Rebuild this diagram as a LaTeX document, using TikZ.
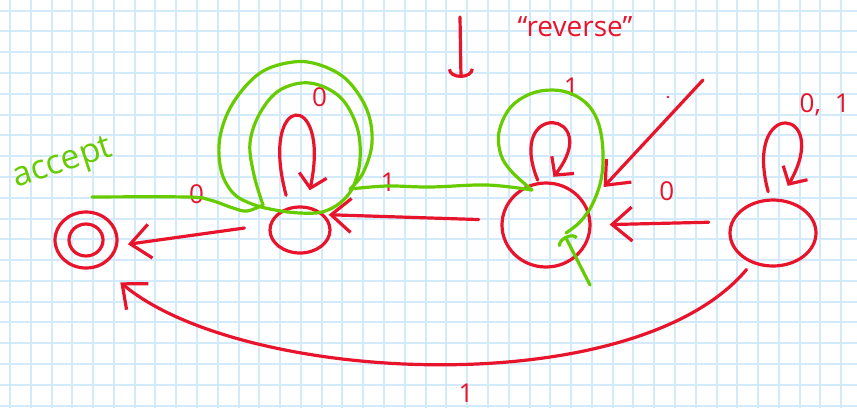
\documentclass[tikz,border=0pt]{standalone}
\usepackage{fontspec}
\setmainfont{Open Sans}
\usepackage{xcolor}
\definecolor{pen}{HTML}{E8142C}
\definecolor{hl}{HTML}{66CC00}
\definecolor{gridc}{HTML}{D2EAFA}
\usetikzlibrary{arrows.meta,positioning,calc,shapes.geometric}
\tikzset{
  ink/.style={line width=3.2pt,line cap=round,line join=round},
  rline/.style={ink,draw=pen},
  gline/.style={ink,draw=hl},
  st/.style={ellipse,rline,inner sep=0pt},
  rarr/.style={rline,-{Straight Barb[length=20pt,width=34pt]}},
  rloop/.style={rline,-{Straight Barb[length=13pt,width=28pt]}},
  lab/.style={font=\fontsize{26}{26}\selectfont,text=pen,inner sep=1pt},
  hand/.style={font=\fontsize{28}{28}\selectfont,inner sep=1pt},
  gridln/.style={draw=gridc,line width=2pt},
}
\begin{document}
\begin{tikzpicture}[x=1pt,y=1pt]
\useasboundingbox (0,0) rectangle (857,-408);
\fill[white] (0,0) rectangle (857,-408);
% squared paper
\foreach \i in {0,...,40}{\draw[gridln] ({10+20.78*\i},0) -- ({10+20.78*\i},-408);}
\foreach \j in {0,...,19}{\draw[gridln] (0,{-10.7-20.78*\j}) -- (857,{-10.7-20.78*\j});}

% states
\node[st,minimum width=62pt,minimum height=56pt] (acc) at (86,-240) {};
\node[st,minimum width=34pt,minimum height=32pt] (acc-in) at (acc) {};
\node[st,minimum width=60pt,minimum height=46pt] (qA) at (300,-230) {};
\node[st,minimum width=88pt,minimum height=84pt] (qB) at (546,-225) {};
\node[st,minimum width=86pt,minimum height=66pt] (qC) at (773,-233) {};

% transitions
\draw[rarr,shorten <=25pt,shorten >=10pt] (qA.170) -- (acc.350) node[lab,pos=.48,above=28pt] (l-a0) {0};
\draw[rarr,shorten <=22pt,shorten >=4pt] (qB.174) -- (qA.32) node[lab,pos=.64,above=23pt] (l-b1) {1};
\draw[rarr,shorten <=22pt,shorten >=18pt] (qC.165) -- (qB.east) node[lab,pos=.46,above=20pt] (l-c0) {0};
\draw[rarr,shorten <=8pt,shorten >=25pt] (qC.235) to[out=-130,in=-40,looseness=.72] node[lab,pos=.46,below=20pt] (l-c1) {1} (acc.-60);
\draw[rloop,shorten <=12pt,shorten >=16pt] (qA.115) .. controls +(105:120) and +(78:120) .. (qA.75) node[lab,pos=.5,above=10pt,xshift=24pt] (l-aa) {0};
\draw[rloop,shorten <=2pt,shorten >=6pt] (qB.100) .. controls +(112:90) and +(52:90) .. (qB.85) node[lab,pos=.5,above=25pt,xshift=19pt] (l-bb) {1};
\draw[rloop,shorten <=7pt,shorten >=15pt] (qC.95) .. controls +(105:106) and +(60:106) .. (qC.78) node[lab,pos=.5,above=7pt,xshift=40pt] (l-cc) {0,\hspace{14pt}1};

% start arrow into qB
\coordinate (b-in) at (703,-80);
\draw[rarr] (b-in) -- ([shift={(12,38)}]qB.east);
\fill[pen] (668,-97) circle[radius=1.3pt];

% reverse note
\coordinate (dn-top) at (460,-17);
\coordinate (dn-tip) at (461,-78);
\draw[rline,-{Arc Barb[length=9pt,width=26pt]}] (dn-top) -- (dn-tip);
\node[hand,text=pen] (rev) at (575,-27) {“reverse”};

% green trace of the reversed run
\coordinate (g-start) at (590,-285);
\draw[gline,-{Arc Barb[length=7pt,width=22pt]}] (g-start) -- ([shift={(19,-11)}]qB.center);
\draw[gline] plot[smooth,tension=.6] coordinates {(566,-233) (580,-222) (592,-205) (601,-180) (603,-152) (599,-125) (589,-106) (572,-94) (552,-90) (530,-94) (510,-108) (499,-132) (501,-155) (512,-172) (532,-190)};
\draw[gline] plot[smooth,tension=.6] coordinates {(532,-190) (487,-185) (430,-187) (387,-186) (350,-189)};
\draw[gline] plot[smooth,tension=.6] coordinates {(350,-189) (363,-173) (372,-143) (367,-110) (347,-80) (320,-65) (293,-62) (260,-73) (233,-103) (220,-137) (221,-170) (233,-193) (252,-204) (275,-210) (300,-213) (322,-212) (340,-203) (353,-187) (360,-160) (357,-127) (340,-97) (310,-83) (280,-90) (260,-113) (250,-143) (254,-175) (263,-205)};
\draw[gline] plot[smooth,tension=.6] coordinates {(263,-205) (247,-211) (233,-208) (210,-200) (187,-197) (92,-197)};
\node[hand,font=\fontsize{34}{34}\selectfont,text=hl,rotate=18] (acc-txt) at (63,-165) {accept};
\end{tikzpicture}
\end{document}
